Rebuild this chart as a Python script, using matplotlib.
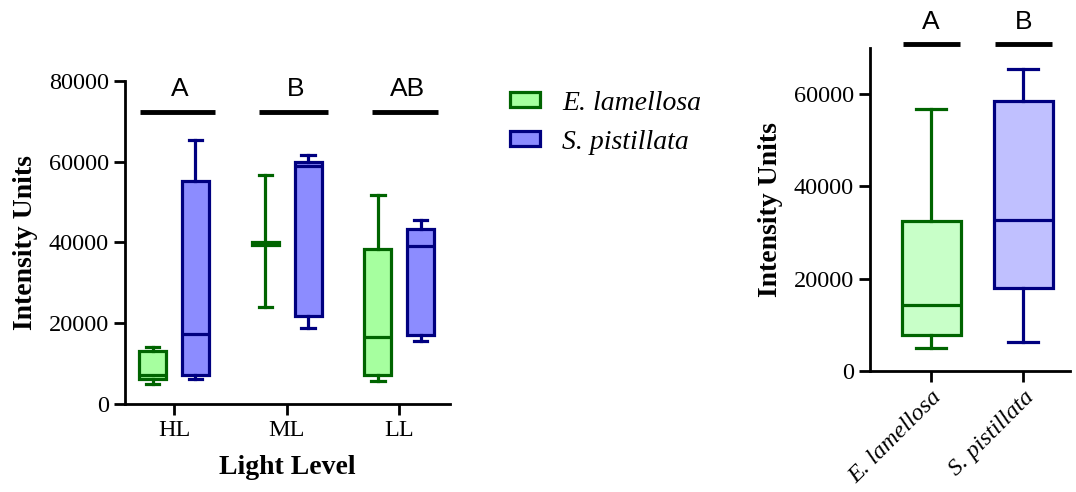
import numpy as np
import matplotlib.pyplot as plt
from matplotlib.patches import Patch

plt.rcParams['font.family'] = ['Liberation Serif', 'DejaVu Serif']

# light level groups (left panel)
groups = ['HL', 'ML', 'LL']
el_low = [4900, 24100, 5800]
el_q1 = [6100, 39300, 7200]
el_med = [7200, 39700, 16700]
el_q3 = [13200, 40100, 38400]
el_high = [14200, 56700, 51800]

sp_low = [6100, 18900, 15700]
sp_q1 = [7200, 21800, 17000]
sp_med = [17400, 58900, 39200]
sp_q3 = [55200, 60000, 43400]
sp_high = [65300, 61600, 45500]

group_letters = ['A', 'B', 'AB']

# pooled by species (right panel)
species = ['E. lamellosa', 'S. pistillata']
pool_low = [4900, 6200]
pool_q1 = [7800, 18000]
pool_med = [14300, 32800]
pool_q3 = [32400, 58500]
pool_high = [56800, 65500]
species_letters = ['A', 'B']

green_edge = '#006400'
blue_edge = '#000080'


def make_stats(low, q1, med, q3, high):
    stats = []
    for i in range(len(low)):
        stats.append({'whislo': low[i], 'q1': q1[i], 'med': med[i],
                      'q3': q3[i], 'whishi': high[i], 'fliers': []})
    return stats


def draw_boxes(ax, stats, pos, width, capw, edge, fill):
    ax.bxp(stats, positions=pos, widths=width, capwidths=capw,
           patch_artist=True, showfliers=False,
           boxprops=dict(facecolor=fill, edgecolor=edge, linewidth=2.3),
           medianprops=dict(color=edge, linewidth=2.3),
           whiskerprops=dict(color=edge, linewidth=2.3),
           capprops=dict(color=edge, linewidth=2.3))


def style_axis(ax):
    for s in ['top', 'right']:
        ax.spines[s].set_visible(False)
    for s in ['left', 'bottom']:
        ax.spines[s].set_linewidth(2)
    ax.tick_params(width=2, length=8, labelsize=17.5)


fig = plt.figure(figsize=(10.76, 4.92), dpi=100)

# ---- left panel
ax1 = fig.add_axes([0.1162, 0.1789, 0.302, 0.657])
x = np.arange(1, len(groups) + 1)
off = 0.19
draw_boxes(ax1, make_stats(el_low, el_q1, el_med, el_q3, el_high),
           x - off, 0.24, 0.12, green_edge, '#a6ff9f')
draw_boxes(ax1, make_stats(sp_low, sp_q1, sp_med, sp_q3, sp_high),
           x + off, 0.24, 0.12, blue_edge, '#8c8cff')
ax1.set_xlim(0.565, 3.45)
ax1.set_ylim(0, 80000)
ax1.set_yticks([0, 20000, 40000, 60000, 80000])
ax1.set_xticks(x)
ax1.set_xticklabels(groups)
style_axis(ax1)
ax1.set_ylabel('Intensity Units', fontsize=20, fontweight='bold', labelpad=8)
ax1.set_xlabel('Light Level', fontsize=20, fontweight='bold', labelpad=10)

bar_spans = [(0.70, 1.36), (1.75, 2.37), (2.76, 3.34)]
for (a, b), lab in zip(bar_spans, group_letters):
    ax1.plot([a, b], [72300, 72300], color='black', lw=3.5,
             solid_capstyle='butt', clip_on=False)
    ax1.text((a + b) / 2 + 0.02, 78000, lab, ha='center', va='center',
             fontsize=19, family='Liberation Sans')

handles = [Patch(facecolor='#a6ff9f', edgecolor=green_edge, lw=2.3),
           Patch(facecolor='#8c8cff', edgecolor=blue_edge, lw=2.3)]
fig.legend(handles, species, loc='upper left', bbox_to_anchor=(0.4555, 0.855),
           frameon=False, prop={'family': 'Liberation Serif', 'style': 'italic', 'size': 20},
           handlelength=1.1, handleheight=0.45, handletextpad=0.8,
           labelspacing=0.5, borderpad=0.2)

# ---- right panel
ax2 = fig.add_axes([0.8086, 0.2465, 0.186, 0.6553])
x2 = np.arange(1, len(species) + 1)
stats2 = make_stats(pool_low, pool_q1, pool_med, pool_q3, pool_high)
draw_boxes(ax2, [stats2[0]], [x2[0]], 0.64, 0.33, green_edge, '#c8ffc8')
draw_boxes(ax2, [stats2[1]], [x2[1]], 0.64, 0.33, blue_edge, '#c0c0ff')
ax2.set_xlim(0.337, 2.51)
ax2.set_ylim(0, 70000)
ax2.set_yticks([0, 20000, 40000, 60000])
ax2.set_xticks(x2)
ax2.set_xticklabels(species, rotation=45, ha='right', rotation_mode='anchor',
                    style='italic')
style_axis(ax2)
ax2.set_ylabel('Intensity Units', fontsize=20, fontweight='bold', labelpad=8)

for xi, lab in zip(x2, species_letters):
    ax2.plot([xi - 0.31, xi + 0.31], [70900, 70900], color='black', lw=3.5,
             solid_capstyle='butt', clip_on=False)
    ax2.text(xi, 75800, lab, ha='center', va='center', fontsize=19,
             family='Liberation Sans')

fig.savefig('out.png', dpi=100)
